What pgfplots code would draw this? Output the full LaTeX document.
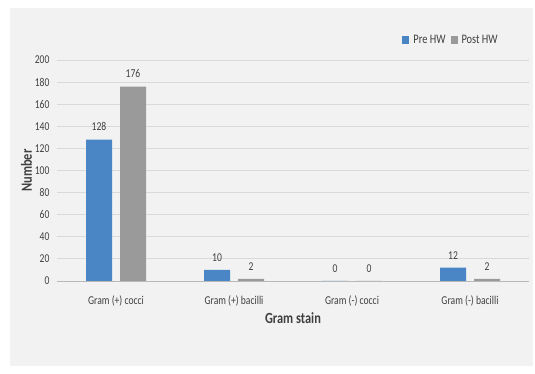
\documentclass[border=0pt]{standalone}
\usepackage{pgfplots}
\pgfplotsset{compat=1.18}
\usepackage{fontspec}
\setmainfont{Carlito}[FakeStretch=0.8]
\definecolor{bgc}{HTML}{F2F2F2}
\definecolor{preC}{HTML}{4A86C6}
\definecolor{postC}{HTML}{9A9A9A}
\definecolor{gridC}{HTML}{D9D9D9}
\definecolor{txtC}{HTML}{404040}
\begin{document}
\begin{tikzpicture}[x=1pt,y=1pt]
\path (0,0) rectangle (535,374);
\fill[bgc] (10,8) rectangle (533,366);
\begin{axis}[
  at={(57pt,93pt)}, anchor=south west,
  scale only axis, width=472pt, height=221pt,
  xmin=-0.5, xmax=3.5, ymin=0, ymax=200,
  ybar, bar width=26pt,
  xtick={0,1,2,3},
  xticklabels={Gram (+) cocci, Gram (+) bacilli, Gram (-) cocci, Gram (-) bacilli},
  ytick={0,20,...,200},
  ymajorgrids, grid style={gridC, line width=0.8pt},
  axis x line*=bottom, axis y line*=left,
  x axis line style={draw=gridC!85!black, line width=0.8pt, -},
  y axis line style={draw=none},
  major tick length=0pt,
  tick label style={font=\fontsize{12}{14}\selectfont, text=txtC},
  yticklabel style={xshift=-4pt},
  xticklabel style={yshift=-11pt},
  /pgf/number format/assume math mode=true,
  xlabel={\bfseries Gram stain}, ylabel={\bfseries Number},
  label style={font=\fontsize{15.5}{17}\selectfont, text=txtC},
  xlabel style={yshift=0pt},
  ylabel style={yshift=-4pt},
  nodes near coords,
  nodes near coords style={font=\fontsize{12}{14}\selectfont, text=txtC, yshift=5pt},
  every axis plot/.append style={draw=none},
  legend style={at={(0.725,1.09)}, anchor=west, draw=none, fill=none,
     font=\fontsize{13}{15}\selectfont, text=txtC, column sep=2pt,
     /tikz/every even column/.append style={column sep=3pt}},
  legend columns=2,
  legend image code/.code={\fill[#1] (0pt,-4pt) rectangle (7pt,4pt);},
  clip=false,
]
\addplot[fill=preC, bar shift=-17pt] coordinates {(0,128) (1,10) (2,0) (3,12)};
\addplot[fill=postC, bar shift=17pt] coordinates {(0,176) (1,2) (2,0) (3,2)};
\legend{Pre HW, Post HW}
\end{axis}
\end{tikzpicture}
\end{document}
